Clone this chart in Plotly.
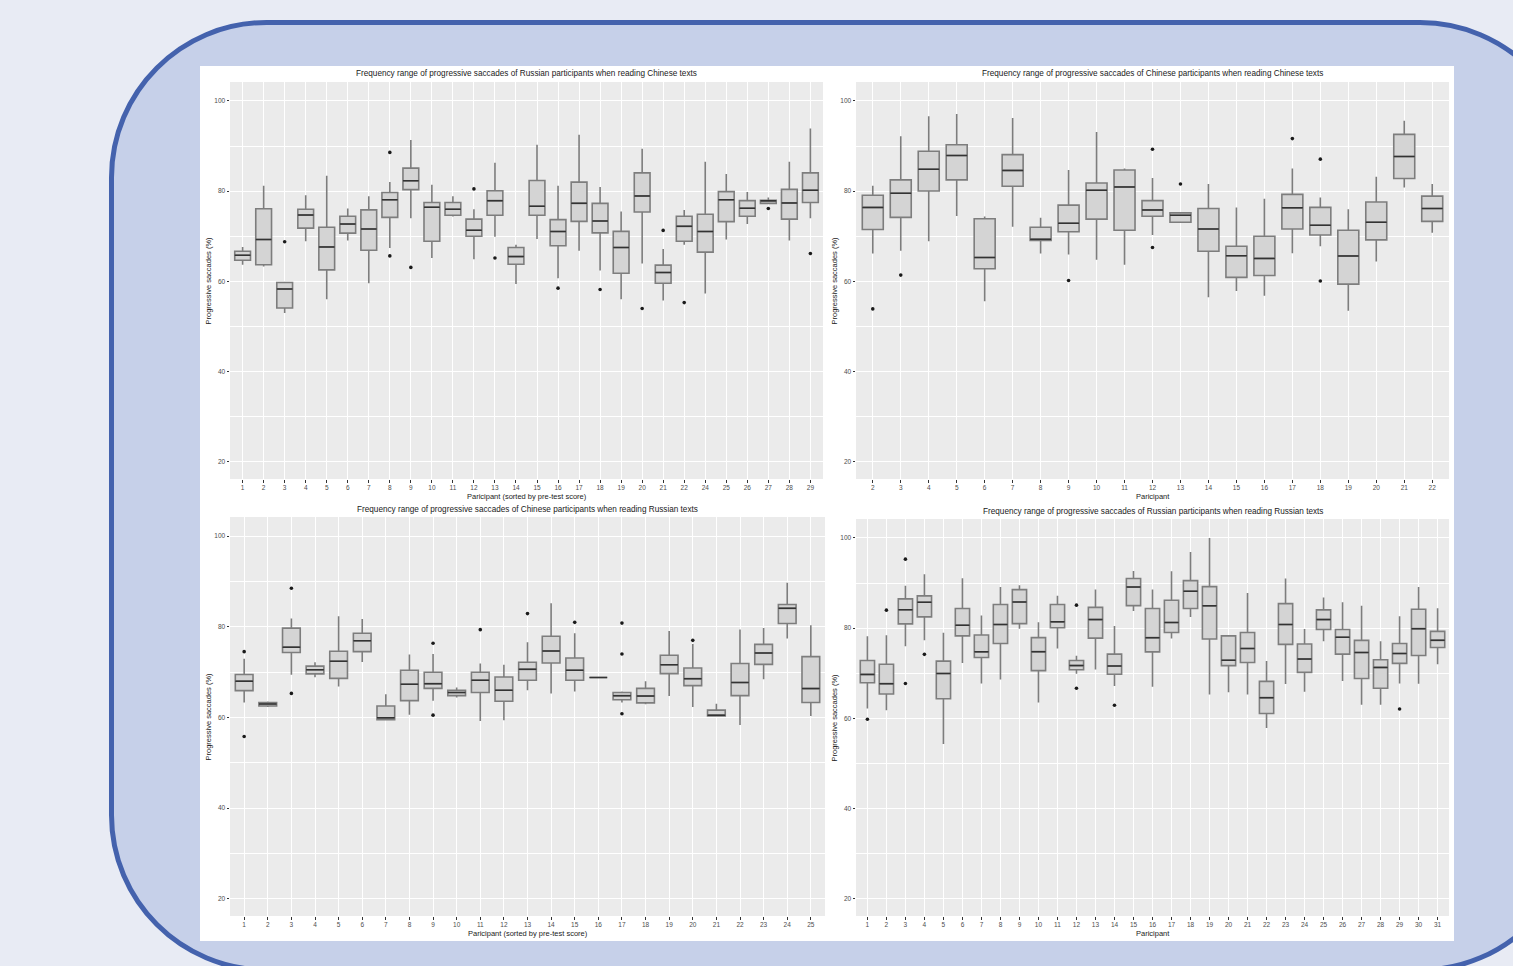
import plotly.graph_objects as go

W, H = 1513, 966

# ---------------------------------------------------------------------------
# Panel A: Russian participants reading Chinese texts
ru_zh_ids = [str(i) for i in list(range(1, 23)) + list(range(24, 30))]
ru_zh_low = [63.7, 63.3, 53.0, 68.9, 56.05, 69.05, 59.6, 67.4, 74.0, 65.2, 74.4, 64.9, 69.9, 59.4,
             69.4, 60.7, 66.8, 62.4, 56.05, 63.95, 55.75, 68.1, 57.3, 69.3, 72.75, 77.3, 69.05, 74.0]
ru_zh_q1 = [64.7, 63.7, 54.1, 71.8, 62.55, 70.7, 66.9, 74.2, 80.35, 68.9, 74.67, 70.0, 74.67, 63.8,
            74.67, 67.9, 73.3, 70.75, 61.8, 75.4, 59.6, 68.9, 66.5, 73.25, 74.45, 77.3, 73.8, 77.5]
ru_zh_med = [65.8, 69.3, 58.3, 74.7, 67.65, 72.7, 71.6, 78.1, 82.3, 76.45, 76.0, 71.35, 77.9, 65.5,
             76.65, 71.05, 77.3, 73.4, 67.5, 78.95, 61.96, 72.2, 71.05, 78.1, 76.2, 77.85, 77.4, 80.2]
ru_zh_q3 = [66.7, 76.1, 59.75, 76.0, 72.0, 74.45, 75.85, 79.7, 85.1, 77.5, 77.5, 73.8, 80.1, 67.5,
            82.35, 73.7, 82.0, 77.3, 71.1, 84.05, 63.6, 74.45, 74.9, 79.9, 77.9, 78.0, 80.4, 84.05]
ru_zh_high = [67.65, 81.2, 59.9, 79.1, 83.4, 76.15, 78.9, 82.05, 91.35, 81.45, 78.9, 76.0, 86.3, 68.1,
              90.3, 81.2, 92.5, 80.95, 75.5, 89.4, 67.2, 75.8, 86.5, 83.8, 79.8, 78.6, 86.5, 93.9]
ru_zh_out_ids = ["3", "8", "8", "9", "12", "13", "16", "18", "20", "21", "22", "27", "29"]
ru_zh_out_vals = [68.8, 88.6, 65.65, 63.1, 80.5, 65.2, 58.5, 58.2, 54.0, 71.3, 55.3, 76.15, 66.2]

# Panel B: Chinese participants reading Chinese texts
zh_zh_ids = [str(i) for i in range(2, 23)]
zh_zh_low = [66.2, 66.8, 68.9, 74.5, 55.6, 72.1, 66.2, 65.95, 64.8, 63.7, 70.3, 73.1, 56.5, 57.9,
             56.8, 66.25, 67.8, 53.5, 64.4, 80.8, 70.8]
zh_zh_q1 = [71.5, 74.2, 80.05, 82.5, 62.8, 81.1, 69.1, 71.0, 73.8, 71.35, 74.45, 73.1, 66.7, 60.9,
            61.3, 71.6, 70.3, 59.4, 69.2, 82.8, 73.3]
zh_zh_med = [76.4, 79.55, 84.85, 87.9, 65.3, 84.6, 69.35, 72.9, 80.2, 80.95, 75.85, 74.65, 71.6, 65.7,
             65.1, 76.3, 72.45, 65.65, 73.1, 87.7, 76.15]
zh_zh_q3 = [79.1, 82.5, 88.85, 90.3, 73.9, 88.1, 72.0, 76.9, 81.8, 84.7, 77.9, 75.2, 76.15, 67.8,
            70.0, 79.3, 76.4, 71.35, 77.6, 92.6, 78.9]
zh_zh_high = [81.2, 92.2, 96.6, 97.1, 74.4, 96.2, 74.1, 84.7, 93.1, 85.0, 82.9, 75.2, 81.6, 76.4,
              78.3, 85.0, 78.6, 76.0, 83.2, 95.6, 81.6]
zh_zh_out_ids = ["2", "3", "9", "12", "12", "13", "17", "18", "18"]
zh_zh_out_vals = [53.9, 61.4, 60.2, 89.3, 67.5, 81.6, 91.65, 87.1, 60.1]

# Panel C: Chinese participants reading Russian texts
zh_ru_ids = [str(i) for i in range(1, 26)]
zh_ru_low = [63.3, 62.3, 69.4, 68.85, 66.8, 72.2, 59.5, 60.6, 63.7, 64.4, 59.2, 59.4, 66.0, 65.25,
             65.7, 68.8, 63.3, 62.9, 64.7, 62.3, 60.3, 58.3, 68.4, 77.4, 60.3]
zh_ru_q1 = [65.9, 62.5, 74.3, 69.6, 68.6, 74.5, 59.5, 63.7, 66.4, 64.8, 65.5, 63.55, 68.2, 72.0,
            68.2, 68.8, 63.9, 63.2, 69.65, 67.0, 60.3, 64.8, 71.7, 80.7, 63.3]
zh_ru_med = [68.0, 62.97, 75.5, 70.5, 72.4, 76.9, 59.9, 67.3, 67.45, 65.5, 68.2, 66.0, 70.6, 74.65,
             70.4, 68.8, 64.8, 64.7, 71.6, 68.55, 60.5, 67.7, 74.2, 84.05, 66.35]
zh_ru_q3 = [69.45, 63.3, 79.7, 71.3, 74.6, 78.55, 62.5, 70.4, 69.95, 66.0, 69.95, 68.9, 72.15, 77.9,
            73.1, 68.8, 65.5, 66.4, 73.7, 70.9, 61.6, 71.9, 76.1, 84.9, 73.4]
zh_ru_high = [72.95, 63.5, 81.8, 72.15, 82.3, 81.7, 65.1, 73.85, 74.0, 66.6, 71.9, 71.6, 76.6, 85.2,
              78.55, 68.8, 65.7, 68.0, 79.05, 76.2, 63.0, 79.4, 79.7, 89.7, 80.3]
zh_ru_out_ids = ["1", "1", "3", "3", "9", "9", "11", "13", "15", "17", "17", "17", "20"]
zh_ru_out_vals = [74.5, 55.8, 88.5, 65.3, 76.35, 60.5, 79.35, 82.9, 80.97, 80.8, 74.0, 60.8, 77.0]

# Panel D: Russian participants reading Russian texts
ru_ru_ids = [str(i) for i in range(1, 32)]
ru_ru_low = [62.2, 61.8, 76.0, 77.35, 54.3, 72.3, 67.75, 68.6, 79.9, 63.5, 75.5, 69.9, 70.85, 67.2,
             83.8, 67.0, 77.7, 82.5, 65.3, 65.8, 65.3, 57.9, 67.6, 65.9, 77.1, 68.3, 63.0, 63.0,
             67.75, 67.7, 72.0]
ru_ru_q1 = [67.9, 65.4, 80.95, 82.5, 64.35, 78.3, 73.5, 76.6, 81.0, 70.6, 80.1, 70.8, 77.8, 69.8,
            85.0, 74.75, 79.05, 84.35, 77.6, 71.7, 72.4, 61.1, 76.4, 70.2, 79.7, 74.25, 68.85, 66.7,
            72.2, 73.95, 75.7]
ru_ru_med = [69.75, 67.7, 84.1, 85.75, 69.95, 80.65, 74.75, 80.8, 85.8, 74.8, 81.4, 71.7, 81.9, 71.6,
             89.1, 77.9, 81.25, 88.2, 84.95, 72.9, 75.5, 64.6, 80.8, 73.15, 81.9, 78.0, 74.6, 71.3,
             74.4, 79.9, 77.3]
ru_ru_q3 = [72.85, 72.0, 86.5, 87.15, 72.7, 84.35, 78.5, 85.25, 88.55, 77.9, 85.25, 72.85, 84.6, 74.25,
            91.0, 84.35, 86.2, 90.55, 89.2, 78.3, 79.05, 68.2, 85.45, 76.5, 84.05, 79.7, 77.3, 73.0,
            76.6, 84.2, 79.3]
ru_ru_high = [78.2, 78.45, 89.4, 91.95, 79.0, 91.05, 82.8, 89.1, 89.5, 81.3, 87.2, 73.9, 88.6, 80.5,
              92.7, 88.55, 92.6, 96.9, 100.0, 78.45, 87.8, 72.7, 91.0, 79.8, 86.8, 85.75, 84.95, 77.1,
              82.65, 89.1, 84.4]
ru_ru_out_ids = ["1", "2", "3", "3", "4", "12", "12", "14", "29"]
ru_ru_out_vals = [59.8, 84.0, 95.3, 67.75, 74.2, 85.1, 66.7, 62.9, 62.1]

titles = [
    "Frequency range of progressive saccades of Russian participants when reading Chinese texts",
    "Frequency range of progressive saccades of Chinese participants when reading Chinese texts",
    "Frequency range of progressive saccades of Chinese participants when reading Russian texts",
    "Frequency range of progressive saccades of Russian participants when reading Russian texts",
]
x_titles = [
    "Paricipant (sorted by pre-test score)",
    "Paricipant",
    "Paricipant (sorted by pre-test score)",
    "Paricipant",
]
y_title = "Progressive saccades (%)"
y_ticks = [20, 40, 60, 80, 100]
y_minor = [30, 50, 70, 90]

# ---------------------------------------------------------------------------
FONT = "Liberation Sans, Arial, sans-serif"
BOX_FILL = "#d4d4d4"
BOX_LINE = "#7d7d7d"
MEDIAN_LINE = "#333333"
PANEL_BG = "#ebebeb"


def px(x):
    return x / W


def py(y):
    return 1 - y / H


# plot-area boxes in pixels: (left, top, right, bottom)
areas = [
    (230, 82, 823, 479),
    (856, 82, 1449, 479),
    (230, 517, 825, 916),
    (856, 519, 1449, 916),
]

panels = [
    (ru_zh_ids, ru_zh_low, ru_zh_q1, ru_zh_med, ru_zh_q3, ru_zh_high, ru_zh_out_ids, ru_zh_out_vals),
    (zh_zh_ids, zh_zh_low, zh_zh_q1, zh_zh_med, zh_zh_q3, zh_zh_high, zh_zh_out_ids, zh_zh_out_vals),
    (zh_ru_ids, zh_ru_low, zh_ru_q1, zh_ru_med, zh_ru_q3, zh_ru_high, zh_ru_out_ids, zh_ru_out_vals),
    (ru_ru_ids, ru_ru_low, ru_ru_q1, ru_ru_med, ru_ru_q3, ru_ru_high, ru_ru_out_ids, ru_ru_out_vals),
]

fig = go.Figure()
layout_axes = {}
annotations = []
panel_bgs = []

for i, (ids, low, q1, med, q3, high, oid, oval) in enumerate(panels):
    n = i + 1
    xa = "x" if n == 1 else f"x{n}"
    ya = "y" if n == 1 else f"y{n}"

    fig.add_trace(go.Box(
        x=ids, q1=q1, median=med, q3=q3, lowerfence=low, upperfence=high,
        xaxis=xa, yaxis=ya, width=0.75, whiskerwidth=0, boxpoints=False,
        fillcolor=BOX_FILL, line=dict(color=BOX_LINE, width=1.6),
        showlegend=False, hoverinfo="skip",
    ))
    # darker median bar drawn over the box
    fig.add_trace(go.Box(
        x=ids, q1=med, median=med, q3=med, lowerfence=med, upperfence=med,
        xaxis=xa, yaxis=ya, width=0.75, whiskerwidth=0, boxpoints=False,
        fillcolor="rgba(0,0,0,0)", line=dict(color=MEDIAN_LINE, width=1.5),
        showlegend=False, hoverinfo="skip",
    ))
    fig.add_trace(go.Scatter(
        x=oid, y=oval, mode="markers", xaxis=xa, yaxis=ya,
        marker=dict(color="#1a1a1a", size=3.6),
        showlegend=False, hoverinfo="skip",
    ))

    l, t, r, b = areas[i]
    cnt = len(ids)
    layout_axes[("xaxis" if n == 1 else f"xaxis{n}")] = dict(
        domain=[px(l), px(r)], anchor=ya, type="category",
        categoryorder="array", categoryarray=ids, range=[-0.6, cnt - 0.4],
        showgrid=True, gridcolor="white", gridwidth=1, zeroline=False, showline=False,
        ticks="outside", ticklen=2.5, tickwidth=1, tickcolor="#333333",
        tickfont=dict(family=FONT, size=6.5, color="#4d4d4d"),
        fixedrange=True,
    )
    layout_axes[("yaxis" if n == 1 else f"yaxis{n}")] = dict(
        domain=[py(b), py(t)], anchor=xa, range=[16.2, 104.2],
        tickmode="array", tickvals=y_ticks,
        showgrid=True, gridcolor="white", gridwidth=1, zeroline=False, showline=False,
        ticks="outside", ticklen=2.5, tickwidth=1, tickcolor="#333333",
        tickfont=dict(family=FONT, size=6.5, color="#4d4d4d"),
        minor=dict(tickmode="array", tickvals=y_minor, showgrid=True,
                   gridcolor="white", gridwidth=0.5, ticks=""),
        fixedrange=True,
    )

    # grey panel background, laid over the white sheet but under the grid
    panel_bgs.append(dict(
        type="rect", xref="paper", yref="paper", layer="below",
        x0=px(l), x1=px(r), y0=py(b), y1=py(t),
        fillcolor=PANEL_BG, line=dict(width=0),
    ))

    cx = (l + r) / 2
    annotations.append(dict(
        x=px(cx), y=py(t - 8), xref="paper", yref="paper", text=titles[i],
        showarrow=False, xanchor="center", yanchor="middle",
        font=dict(family=FONT, size=8.2, color="#1a1a1a"),
    ))
    annotations.append(dict(
        x=px(cx), y=py(b + 17), xref="paper", yref="paper", text=x_titles[i],
        showarrow=False, xanchor="center", yanchor="middle",
        font=dict(family=FONT, size=7.5, color="#1a1a1a"),
    ))
    annotations.append(dict(
        x=px(l - 22), y=py((t + b) / 2), xref="paper", yref="paper", text=y_title,
        showarrow=False, xanchor="center", yanchor="middle", textangle=-90,
        font=dict(family=FONT, size=7.5, color="#1a1a1a"),
    ))

# rounded frame behind the white chart sheet
FL, FT, FR, FB, RAD = 111.5, 22.5, 1575, 970, 155
K = 0.5523 * RAD


def P(x, y):
    return f"{px(x):.5f},{py(y):.5f}"


frame_path = (
    f"M {P(FL, FT + RAD)} "
    f"C {P(FL, FT + RAD - K)} {P(FL + RAD - K, FT)} {P(FL + RAD, FT)} "
    f"L {P(FR - RAD, FT)} "
    f"C {P(FR - RAD + K, FT)} {P(FR, FT + RAD - K)} {P(FR, FT + RAD)} "
    f"L {P(FR, FB - RAD)} "
    f"C {P(FR, FB - RAD + K)} {P(FR - RAD + K, FB)} {P(FR - RAD, FB)} "
    f"L {P(FL + RAD, FB)} "
    f"C {P(FL + RAD - K, FB)} {P(FL, FB - RAD + K)} {P(FL, FB - RAD)} Z"
)

shapes = [
    dict(type="path", path=frame_path, xref="paper", yref="paper", layer="below",
         fillcolor="#c6d0e9", line=dict(color="#4462ad", width=5)),
    dict(type="rect", xref="paper", yref="paper", layer="below",
         x0=px(200), x1=px(1454), y0=py(941), y1=py(66),
         fillcolor="white", line=dict(width=0)),
] + panel_bgs

fig.update_layout(
    width=W, height=H,
    margin=dict(l=0, r=0, t=0, b=0, autoexpand=False),
    paper_bgcolor="#e8ebf4",
    plot_bgcolor="rgba(0,0,0,0)",
    boxmode="overlay",
    shapes=shapes,
    annotations=annotations,
    font=dict(family=FONT),
    **layout_axes,
)

fig.write_html("out.html")
